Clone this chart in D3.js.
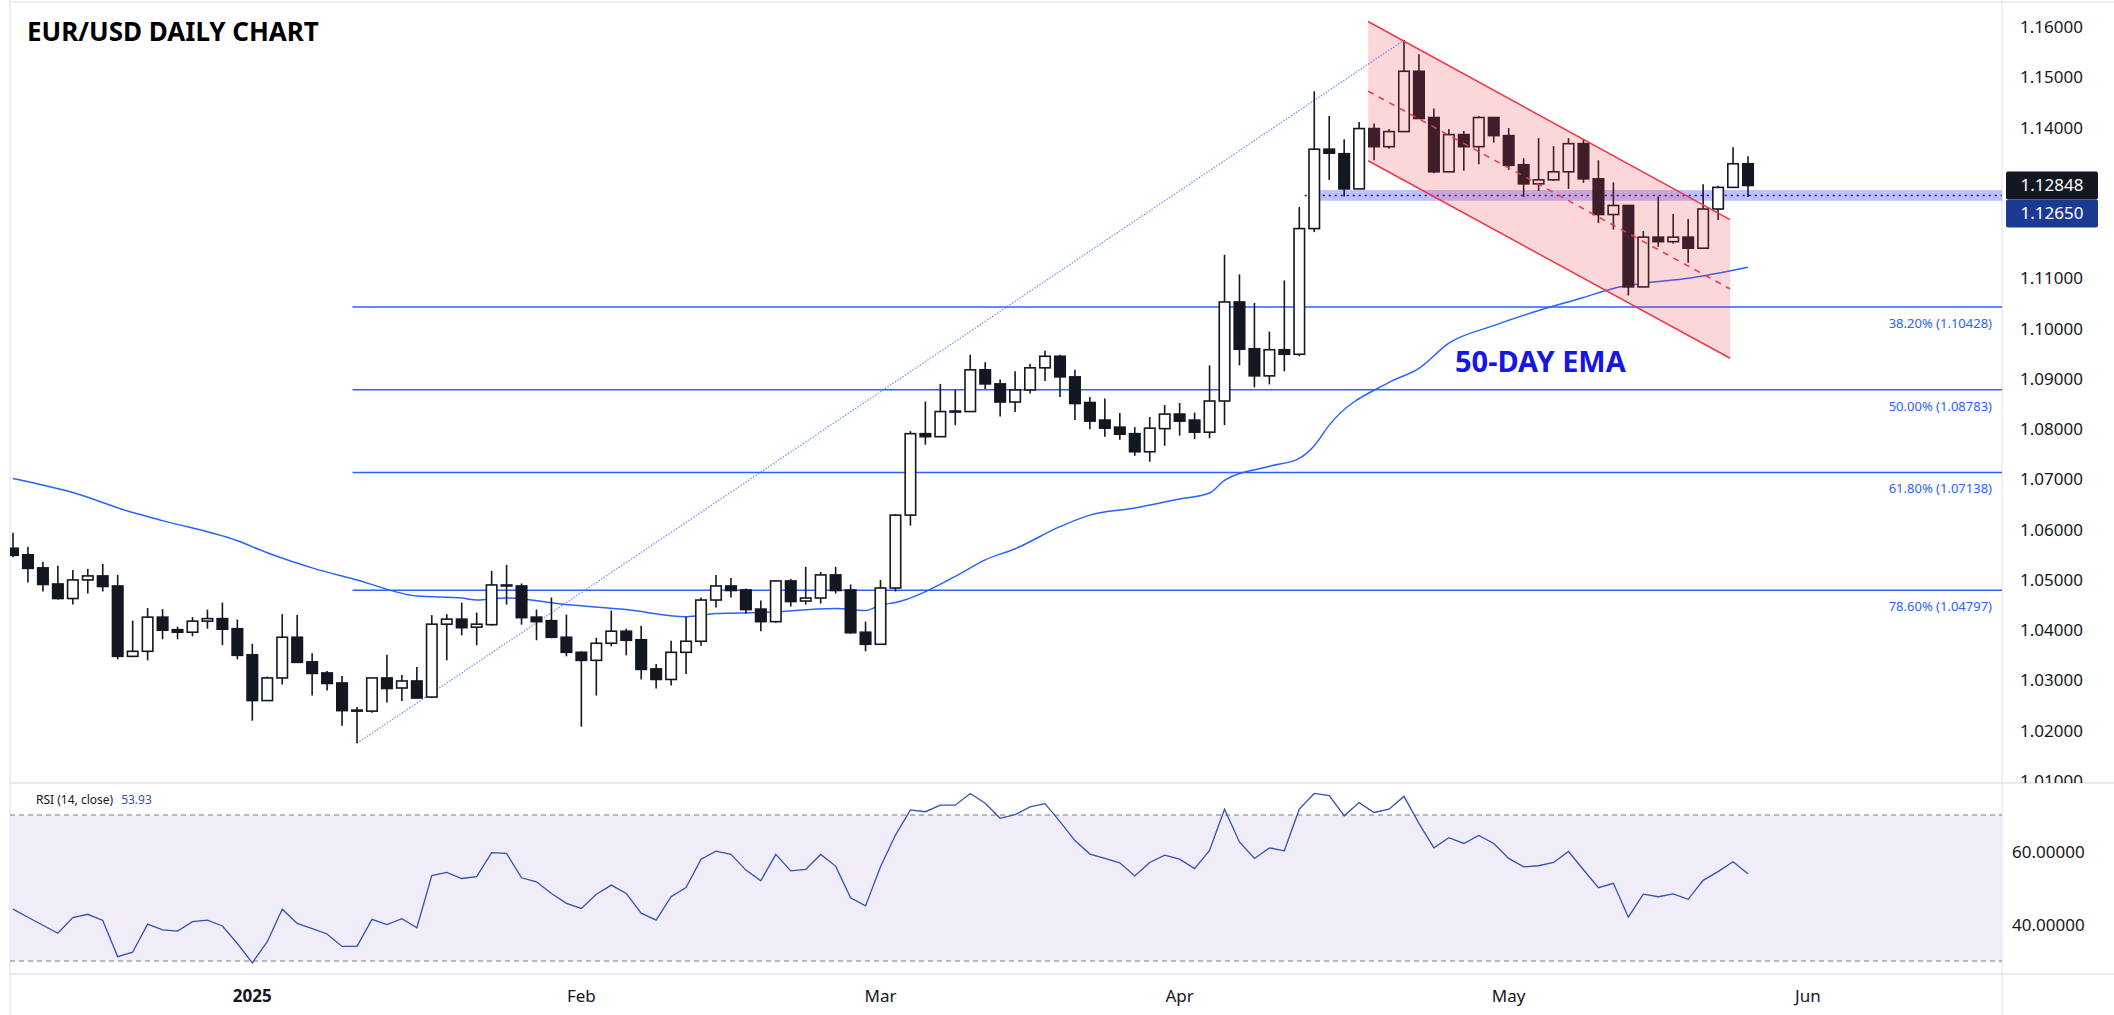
<!DOCTYPE html>
<html lang="en">
<head>
<meta charset="UTF-8"/>
<title>EUR/USD Daily Chart</title>
<script src="https://d3js.org/d3.v7.min.js"></script>
<style>
  body { margin: 0; background: #fff; }
  text { font-family: "Noto Sans", "DejaVu Sans", sans-serif; }
</style>
</head>
<body>
<script>
    // candle data, one entry per trading day (index 0 = 10 Dec 2024)
    var opens = [1.0563,1.0550,1.0524,1.0492,1.0463,1.0500,1.0508,1.0488,1.0348,1.0358,
        1.0426,1.0401,1.0396,1.0418,1.0423,1.0403,1.0351,1.0260,1.0305,1.0386,
        1.0337,1.0315,1.0295,1.0241,1.0239,1.0305,1.0285,1.0299,1.0267,1.0412,
        1.0422,1.0406,1.0411,1.0490,1.0488,1.0426,1.0419,1.0386,1.0356,1.0340,
        1.0374,1.0398,1.0381,1.0323,1.0302,1.0356,1.0378,1.0460,1.0488,1.0480,
        1.0442,1.0417,1.0498,1.0458,1.0464,1.0510,1.0480,1.0396,1.0372,1.0484,
        1.0629,1.0791,1.0785,1.0835,1.0835,1.0918,1.0890,1.0854,1.0878,1.0922,
        1.0945,1.0904,1.0853,1.0818,1.0804,1.0791,1.0755,1.0801,1.0830,1.0818,
        1.0794,1.0856,1.1053,1.0960,1.0906,1.0958,1.0949,1.1199,1.1357,1.1348,
        1.1278,1.1398,1.1362,1.1392,1.1512,1.1420,1.1312,1.1386,1.1362,1.1420,
        1.1384,1.1326,1.1288,1.1296,1.1312,1.1368,1.1298,1.1227,1.1245,1.1083,
        1.1182,1.1173,1.1182,1.1160,1.1238,1.1281,1.1328];
    var highs = [1.0594,1.0566,1.0536,1.0528,1.0520,1.0522,1.0532,1.0510,1.0419,1.0444,
        1.0442,1.0407,1.0426,1.0441,1.0455,1.0421,1.0373,1.0308,1.0432,1.0430,
        1.0354,1.0319,1.0309,1.0247,1.0305,1.0351,1.0311,1.0327,1.0430,1.0432,
        1.0455,1.0435,1.0518,1.0530,1.0493,1.0441,1.0465,1.0431,1.0358,1.0385,
        1.0439,1.0403,1.0409,1.0333,1.0379,1.0427,1.0465,1.0510,1.0504,1.0483,
        1.0459,1.0500,1.0502,1.0526,1.0516,1.0526,1.0491,1.0417,1.0500,1.0631,
        1.0796,1.0855,1.0890,1.0878,1.0948,1.0933,1.0899,1.0915,1.0930,1.0956,
        1.0948,1.0918,1.0864,1.0861,1.0832,1.0804,1.0824,1.0848,1.0852,1.0833,
        1.0927,1.1147,1.1108,1.1051,1.0994,1.1096,1.1242,1.1472,1.1423,1.1377,
        1.1411,1.1408,1.1397,1.1574,1.1546,1.1438,1.1397,1.1393,1.1423,1.1420,
        1.1399,1.1339,1.1379,1.1363,1.1379,1.1377,1.1335,1.1291,1.1245,1.1194,
        1.1263,1.1228,1.1218,1.1287,1.1284,1.1361,1.1343];
    var lows = [1.0545,1.0495,1.0477,1.0461,1.0451,1.0473,1.0477,1.0342,1.0346,1.0340,
        1.0382,1.0382,1.0388,1.0403,1.0370,1.0342,1.0220,1.0259,1.0292,1.0336,
        1.0270,1.0280,1.0210,1.0175,1.0236,1.0256,1.0259,1.0265,1.0265,1.0340,
        1.0390,1.0370,1.0409,1.0451,1.0411,1.0380,1.0384,1.0348,1.0208,1.0270,
        1.0368,1.0350,1.0302,1.0284,1.0290,1.0313,1.0369,1.0445,1.0465,1.0433,
        1.0398,1.0415,1.0447,1.0451,1.0453,1.0473,1.0393,1.0358,1.0372,1.0477,
        1.0608,1.0769,1.0785,1.0808,1.0835,1.0880,1.0825,1.0834,1.0871,1.0896,
        1.0864,1.0818,1.0800,1.0785,1.0779,1.0747,1.0735,1.0767,1.0787,1.0780,
        1.0782,1.0808,1.0927,1.0883,1.0889,1.0915,1.0945,1.1192,1.1296,1.1263,
        1.1278,1.1335,1.1358,1.1392,1.1418,1.1309,1.1312,1.1314,1.1327,1.1370,
        1.1316,1.1262,1.1274,1.1294,1.1278,1.1290,1.1210,1.1197,1.1066,1.1083,
        1.1163,1.1169,1.1131,1.1160,1.1216,1.1281,1.1262];
    var closes = [1.0549,1.0523,1.0491,1.0463,1.0500,1.0508,1.0487,1.0348,1.0358,1.0426,
        1.0400,1.0396,1.0418,1.0423,1.0402,1.0350,1.0260,1.0305,1.0386,1.0336,
        1.0314,1.0294,1.0240,1.0240,1.0305,1.0284,1.0299,1.0265,1.0412,1.0422,
        1.0405,1.0412,1.0490,1.0490,1.0425,1.0417,1.0386,1.0356,1.0340,1.0374,
        1.0398,1.0380,1.0322,1.0302,1.0356,1.0378,1.0460,1.0488,1.0479,1.0441,
        1.0417,1.0498,1.0457,1.0464,1.0510,1.0479,1.0395,1.0372,1.0484,1.0629,
        1.0791,1.0785,1.0835,1.0836,1.0918,1.0890,1.0854,1.0878,1.0922,1.0945,
        1.0904,1.0851,1.0816,1.0802,1.0790,1.0755,1.0802,1.0830,1.0816,1.0794,
        1.0856,1.1053,1.0959,1.0906,1.0958,1.0949,1.1199,1.1357,1.1349,1.1278,
        1.1398,1.1362,1.1392,1.1512,1.1418,1.1312,1.1386,1.1362,1.1420,1.1384,
        1.1325,1.1288,1.1296,1.1312,1.1368,1.1298,1.1227,1.1245,1.1083,1.1182,
        1.1173,1.1182,1.1160,1.1238,1.1281,1.1328,1.12848];

    // RSI(14) per candle
    var rsi = [44.2,42.0,39.8,37.6,41.9,42.8,41.1,31.2,32.4,40.1,
        38.5,38.2,40.8,41.2,39.6,34.8,29.5,35.3,44.2,40.3,
        38.9,37.4,34.0,34.0,41.4,40.0,41.6,39.1,53.4,54.3,
        52.6,53.1,59.7,59.5,52.8,51.7,48.5,45.8,44.4,48.3,
        50.8,48.5,43.1,41.2,47.6,50.1,57.9,60.1,59.2,54.9,
        52.0,59.2,54.7,55.1,59.2,56.0,47.3,45.1,55.8,64.5,
        71.4,70.9,72.7,72.7,75.9,73.2,69.1,70.1,72.2,73.1,
        68.2,63.0,59.3,58.1,56.9,53.3,57.0,59.0,57.9,55.3,
        60.3,71.6,62.6,58.1,61.0,60.2,71.6,75.9,75.3,69.8,
        73.4,70.7,71.6,75.1,67.7,61.0,63.8,62.2,64.4,62.2,
        58.1,55.8,56.1,57.0,60.0,55.0,50.1,51.3,42.0,48.3,
        47.6,48.4,46.9,52.1,54.5,57.2,53.93];

    // 50-day EMA read at candle indices
    var emaIdx = [0,4,8,10,15,17,20,23,27,30,31,33,37,41,45,47,50,55,57,58,59,63,65,67,70,72,75,78,80,81,84,86,87,88,92,94,96,99,102,105,107,109,112,116];
    var emaVal = [1.0702,1.0674,1.0634,1.0618,1.0578,1.0554,1.0524,1.0500,1.0468,1.0464,1.0460,1.0464,1.0451,1.0441,1.0427,1.0433,1.0435,1.0443,1.0439,1.0450,1.0455,1.0507,1.0540,1.0562,1.0606,1.0629,1.0643,1.0661,1.0673,1.0698,1.0726,1.0742,1.0767,1.0808,1.0893,1.0921,1.0971,1.1006,1.1036,1.1062,1.1080,1.1090,1.1100,1.1122];

    // fibonacci retracement levels
    var fibPct = ["78.60%","61.80%","50.00%","38.20%"];
    var fibVal = [1.04797,1.07138,1.08783,1.10428];
    var fibStart = 22.7;

    // trend line low to high, channel, support band
    var trendIdx = [23,93];
    var trendVal = [1.0175,1.1574];
    var channelIdx = [90.6,114.8];
    var channelTop = [1.1611,1.1217];
    var channelBot = [1.1334,1.0941];
    var bandStart = 86.9;
    var bandLevel = 1.1265;
    var bandHalf = 0.00107;

    var priceTicks = [1.01,1.02,1.03,1.04,1.05,1.06,1.07,1.08,1.09,1.10,1.11,1.12,1.13,1.14,1.15,1.16];
    var rsiTicks = [40,60];
    var timeLabels = ["2025","Feb","Mar","Apr","May","Jun"];
    var timeIdx = [16,38,58,78,100,120];

    var w = 2114, h = 1015;
    var plotL = 10, plotR = 2002;
    var priceTop = 0, priceBot = 783;
    var rsiTop = 783, rsiBot = 974;

    var x = d3.scaleLinear().domain([0,116]).range([13,1748]);
    var y = d3.scaleLinear().domain([1.00960,1.16538]).range([priceBot,0]);
    var yr = d3.scaleLinear().domain([30,70]).range([961,815]);

    var svg = d3.select("body").append("svg").attr("width", w).attr("height", h);

    svg.append("rect").attr("x",0).attr("y",0).attr("width",w).attr("height",h).attr("fill","#fff");

    var defs = svg.append("defs");
    defs.append("clipPath").attr("id","pclip").append("rect")
        .attr("x",plotL).attr("y",priceTop).attr("width",plotR-plotL).attr("height",priceBot-priceTop);

    // frame and pane separators
    svg.append("line").attr("x1",plotL).attr("x2",plotL).attr("y1",0).attr("y2",h).attr("stroke","#eef0f3").attr("stroke-width",2);
    svg.append("line").attr("x1",plotL).attr("x2",w).attr("y1",2).attr("y2",2).attr("stroke","#eef0f3").attr("stroke-width",2);
    svg.append("line").attr("x1",plotR).attr("x2",plotR).attr("y1",0).attr("y2",h).attr("stroke","#e0e3eb");
    [rsiTop, rsiBot].forEach(function (yy) {
        svg.append("line").attr("x1",plotL).attr("x2",w).attr("y1",yy).attr("y2",yy).attr("stroke","#e0e3eb").attr("stroke-width",1.5);
    });

    var pane = svg.append("g").attr("clip-path","url(#pclip)");

    //fib lines
    fibVal.forEach(function (v, i) {
        pane.append("line").attr("x1",x(fibStart)).attr("x2",plotR).attr("y1",y(v)).attr("y2",y(v))
            .attr("stroke","#2962ff").attr("stroke-width",1.5);
        pane.append("text").attr("x",1992).attr("y",y(v)+21).attr("text-anchor","end")
            .attr("font-size","13px").attr("fill","#2962ff")
            .text(fibPct[i] + " (" + v.toFixed(5) + ")");
    });

    //dotted trend line
    pane.append("line").attr("x1",x(trendIdx[0])).attr("y1",y(trendVal[0]))
        .attr("x2",x(trendIdx[1])).attr("y2",y(trendVal[1]))
        .attr("stroke","#2962ff").attr("stroke-opacity",0.7).attr("stroke-width",1.2).attr("stroke-dasharray","1.5,1.5");

    //support band
    pane.append("rect").attr("x",x(bandStart)).attr("width",plotR-x(bandStart))
        .attr("y",y(bandLevel+bandHalf)).attr("height",y(bandLevel-bandHalf)-y(bandLevel+bandHalf))
        .attr("fill","rgba(41,47,255,0.3)");
    pane.append("line").attr("x1",x(bandStart)-8).attr("x2",plotR).attr("y1",y(bandLevel)).attr("y2",y(bandLevel))
        .attr("stroke","#1a1a8c").attr("stroke-width",1.5).attr("stroke-dasharray","2,4");

    //ema line
    var ema = d3.line().x(function (d, i) { return x(emaIdx[i]); }).y(function (d) { return y(d); }).curve(d3.curveMonotoneX);
    pane.append("path").datum(emaVal).attr("d",ema).attr("fill","none").attr("stroke","#2962ff").attr("stroke-width",1.5);

    //candles
    var bw = 10.5;
    var idx = d3.range(closes.length);
    pane.selectAll(".wick").data(idx).enter().append("line")
        .attr("x1",function (i) { return x(i); }).attr("x2",function (i) { return x(i); })
        .attr("y1",function (i) { return y(highs[i]); }).attr("y2",function (i) { return y(lows[i]); })
        .attr("stroke","#131722").attr("stroke-width",1.6);
    pane.selectAll(".body").data(idx).enter().append("rect")
        .attr("x",function (i) { return x(i) - bw/2; })
        .attr("y",function (i) { return y(Math.max(opens[i],closes[i])); })
        .attr("width",bw)
        .attr("height",function (i) { return Math.max(1, Math.abs(y(opens[i]) - y(closes[i]))); })
        .attr("fill",function (i) { return closes[i] >= opens[i] ? "#fff" : "#131722"; })
        .attr("stroke","#131722").attr("stroke-width",1.6);

    //descending channel
    var cx0 = x(channelIdx[0]), cx1 = x(channelIdx[1]);
    pane.append("polygon")
        .attr("points",[[cx0,y(channelTop[0])],[cx1,y(channelTop[1])],[cx1,y(channelBot[1])],[cx0,y(channelBot[0])]].join(" "))
        .attr("fill","rgba(242,54,69,0.2)");
    [channelTop, channelBot].forEach(function (c) {
        pane.append("line").attr("x1",cx0).attr("y1",y(c[0])).attr("x2",cx1).attr("y2",y(c[1]))
            .attr("stroke","#f23645").attr("stroke-width",1.5);
    });
    pane.append("line").attr("x1",cx0).attr("y1",y((channelTop[0]+channelBot[0])/2))
        .attr("x2",cx1).attr("y2",y((channelTop[1]+channelBot[1])/2))
        .attr("stroke","#f23645").attr("stroke-width",1.5).attr("stroke-dasharray","6,6");

    //annotation
    pane.append("text").attr("x",1455).attr("y",372).attr("font-size","29px").attr("font-weight","bold")
        .attr("font-family","'Liberation Sans Narrow','DejaVu Sans Condensed',sans-serif")
        .attr("fill","#1515e6").text("50-DAY EMA");

    //title
    svg.append("text").attr("x",27).attr("y",41).attr("font-size","26px").attr("font-weight","bold")
        .attr("font-family","'Open Sans',sans-serif").attr("fill","#000").text("EUR/USD DAILY CHART");

    //price axis, ticks hidden behind the price boxes are skipped
    var last = closes[closes.length-1];
    var boxTop = y(last) - 14, boxBot = y(last) + 42;
    var yAxis = svg.append("g").attr("clip-path","url(#pclip2)");
    defs.append("clipPath").attr("id","pclip2").append("rect").attr("x",plotR).attr("y",0).attr("width",w-plotR).attr("height",priceBot);
    yAxis.selectAll("text").data(priceTicks.filter(function (d) { return y(d) + 8 < boxTop || y(d) - 8 > boxBot; }))
        .enter().append("text")
        .attr("x",2020).attr("y",function (d) { return y(d) + 6; })
        .attr("font-size","17px").attr("fill","#131722")
        .text(function (d) { return d3.format(".5f")(d); });

    svg.append("rect").attr("x",2006).attr("y",y(last)-14).attr("width",92).attr("height",28).attr("fill","#131722").attr("rx",2);
    svg.append("text").attr("x",2052).attr("y",y(last)+6).attr("text-anchor","middle").attr("font-size","17px")
        .attr("fill","#fff").text(last.toFixed(5));
    svg.append("rect").attr("x",2006).attr("y",y(last)+14).attr("width",92).attr("height",28).attr("fill","#1c3a94").attr("rx",2);
    svg.append("text").attr("x",2052).attr("y",y(last)+34).attr("text-anchor","middle").attr("font-size","17px")
        .attr("fill","#fff").text(bandLevel.toFixed(5));

    //rsi pane
    svg.append("rect").attr("x",plotL).attr("y",yr(70)).attr("width",plotR-plotL).attr("height",yr(30)-yr(70)).attr("fill","#f0ecf8");
    [70,30].forEach(function (v) {
        svg.append("line").attr("x1",plotL).attr("x2",plotR).attr("y1",yr(v)).attr("y2",yr(v))
            .attr("stroke","#787b86").attr("stroke-width",1).attr("stroke-dasharray","5,4");
    });
    var rline = d3.line().x(function (d, i) { return x(i); }).y(function (d) { return yr(d); });
    svg.append("path").datum(rsi).attr("d",rline).attr("fill","none").attr("stroke","#3451b2").attr("stroke-width",1.3);
    var lbl = svg.append("text").attr("x",36).attr("y",804).attr("font-size","12px");
    lbl.append("tspan").attr("fill","#131722").text("RSI (14, close)");
    lbl.append("tspan").attr("fill","#3451b2").attr("dx",8).text(rsi[rsi.length-1].toFixed(2));
    svg.selectAll(".rtick").data(rsiTicks).enter().append("text")
        .attr("x",2012).attr("y",function (d) { return yr(d) + 6; })
        .attr("font-size","17px").attr("fill","#131722")
        .text(function (d) { return d3.format(".5f")(d); });

    //time axis
    svg.selectAll(".tl").data(timeLabels).enter().append("text")
        .attr("x",function (d, i) { return x(timeIdx[i]); }).attr("y",1002)
        .attr("text-anchor","middle").attr("font-size","17px")
        .attr("font-weight",function (d) { return d === "2025" ? "bold" : "normal"; })
        .attr("fill","#131722").text(function (d) { return d; });
</script>
</body>
</html>
